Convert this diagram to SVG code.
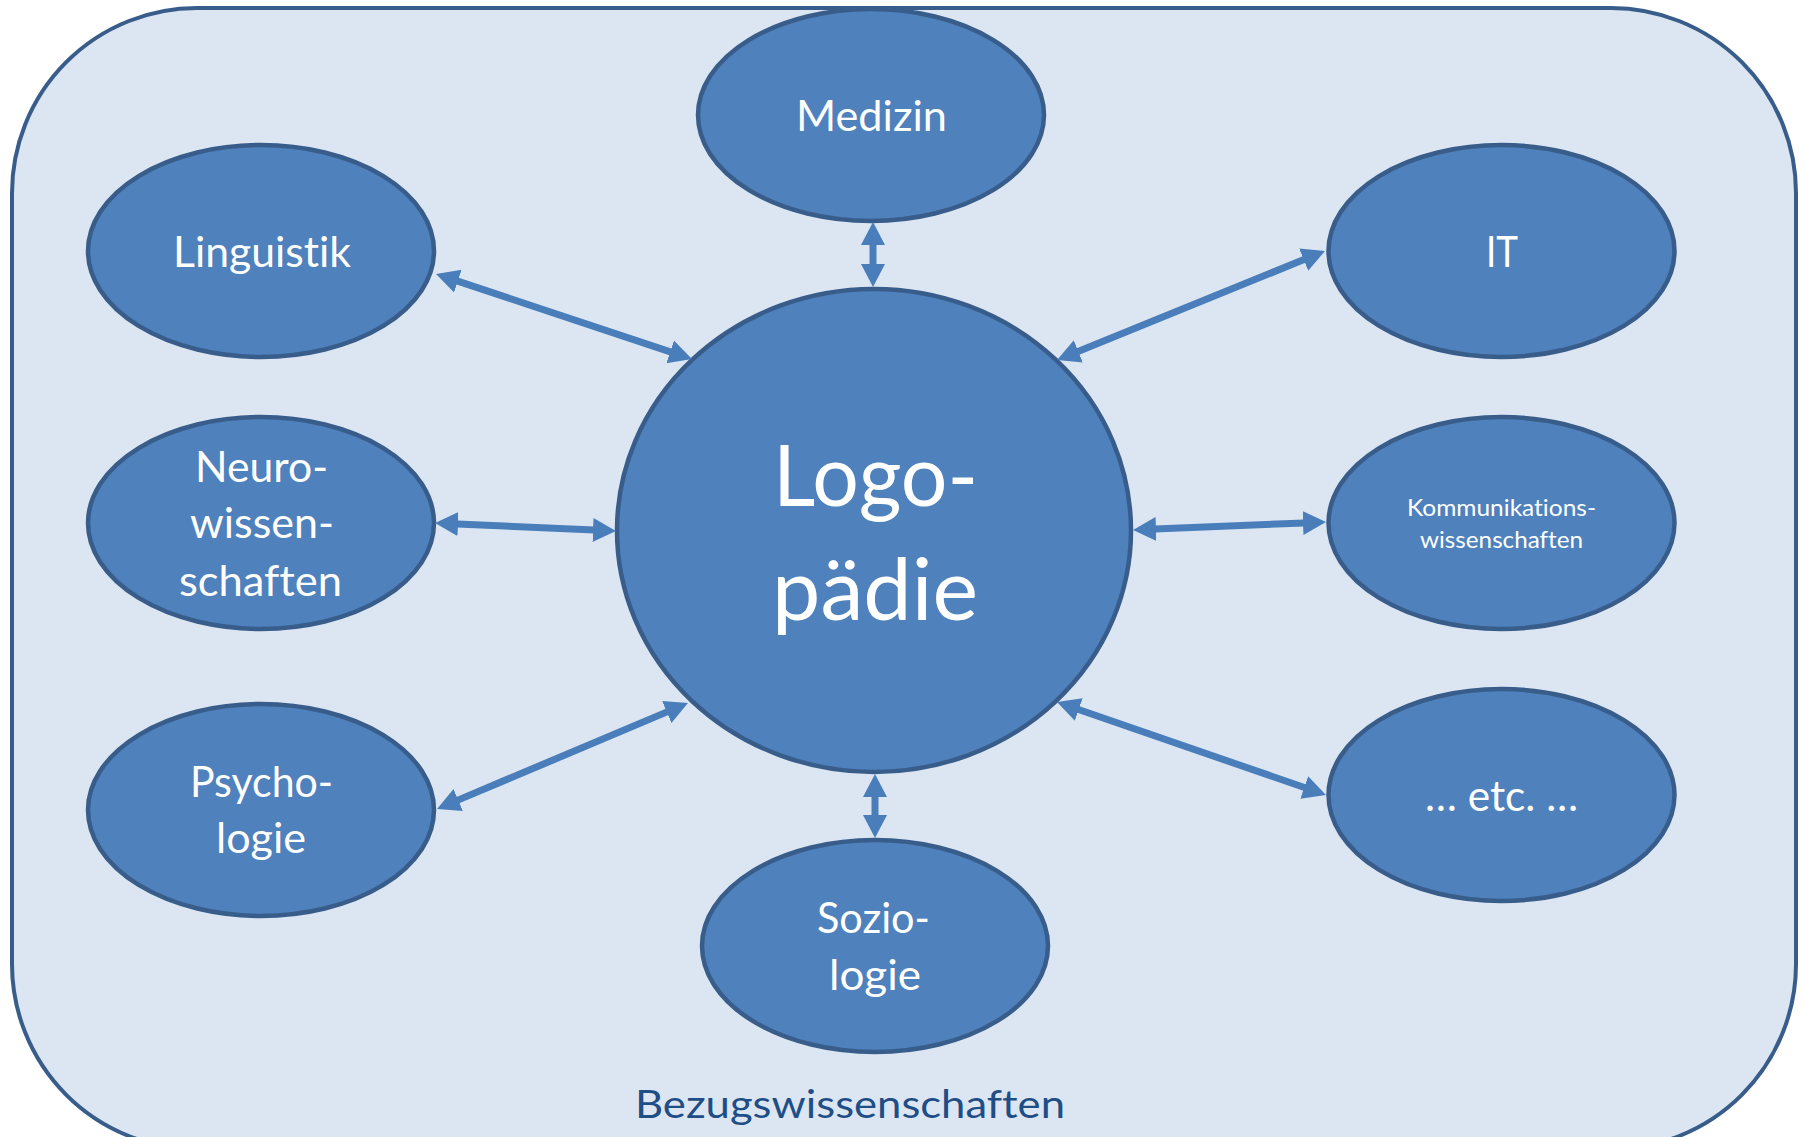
<svg xmlns="http://www.w3.org/2000/svg" width="1805" height="1137" viewBox="0 0 1805 1137">
  <style>
    text { font-variant-ligatures: none; font-feature-settings: "liga" 0, "clig" 0; }
    .node { fill: #4F81BD; stroke: #385D8A; stroke-width: 4.5; }
    .lbl { fill: #FFFFFF; font-family: Lato, "Open Sans", "Liberation Sans", sans-serif; font-size: 42px; text-anchor: middle; }
    .big { font-size: 86px; }
    .small { font-size: 23px; }
    .conn { stroke: #4A7EBB; stroke-width: 7; fill: none; marker-start: url(#head); marker-end: url(#head); }
    .title { fill: #1F4E86; font-family: Lato, "Open Sans", "Liberation Sans", sans-serif; font-size: 39px; text-anchor: middle; }
  </style>
  <defs>
    <marker id="head" markerUnits="userSpaceOnUse" markerWidth="25" markerHeight="25" refX="1" refY="12" orient="auto-start-reverse" viewBox="0 0 25 24">
      <path d="M0,0 L23,12 L0,24 Z" fill="#4A7EBB"/>
    </marker>
  </defs>

  <g id="background">
    <rect x="12" y="8" width="1784" height="1141" rx="185" ry="185" fill="#DCE6F2" stroke="#385D8A" stroke-width="4"/>
    <text class="title" x="850" y="1118" textLength="430" lengthAdjust="spacingAndGlyphs">Bezugswissenschaften</text>
  </g>

  <g id="node-logopaedie">
    <ellipse class="node" cx="874" cy="530.5" rx="257" ry="241.5"/>
    <text class="lbl big" x="875.5" y="506" textLength="205" lengthAdjust="spacingAndGlyphs">Logo-</text>
    <text class="lbl big" x="875" y="620" textLength="206" lengthAdjust="spacingAndGlyphs">pädie</text>
  </g>

  <g id="node-medizin">
    <ellipse class="node" cx="871" cy="115" rx="173" ry="106"/>
    <text class="lbl" x="871.5" y="131" textLength="151" lengthAdjust="spacingAndGlyphs">Medizin</text>
  </g>

  <g id="node-linguistik">
    <ellipse class="node" cx="261" cy="251" rx="173" ry="106"/>
    <text class="lbl" x="262" y="267" textLength="178" lengthAdjust="spacingAndGlyphs">Linguistik</text>
  </g>

  <g id="node-it">
    <ellipse class="node" cx="1501.5" cy="251" rx="173" ry="106"/>
    <text class="lbl" x="1502" y="267" textLength="32" lengthAdjust="spacingAndGlyphs">IT</text>
  </g>

  <g id="node-neurowissenschaften">
    <ellipse class="node" cx="261" cy="523" rx="173" ry="106"/>
    <text class="lbl" x="261.5" y="482" textLength="133" lengthAdjust="spacingAndGlyphs">Neuro-</text>
    <text class="lbl" x="262" y="538" textLength="144" lengthAdjust="spacingAndGlyphs">wissen-</text>
    <text class="lbl" x="260.5" y="596" textLength="163" lengthAdjust="spacingAndGlyphs">schaften</text>
  </g>

  <g id="node-kommunikationswissenschaften">
    <ellipse class="node" cx="1501.5" cy="523" rx="173" ry="106"/>
    <text class="lbl small" x="1501.5" y="516" textLength="189" lengthAdjust="spacingAndGlyphs">Kommunikations-</text>
    <text class="lbl small" x="1501.5" y="548" textLength="163" lengthAdjust="spacingAndGlyphs">wissenschaften</text>
  </g>

  <g id="node-psychologie">
    <ellipse class="node" cx="261" cy="810" rx="173" ry="106"/>
    <text class="lbl" x="261.5" y="797" textLength="143" lengthAdjust="spacingAndGlyphs">Psycho-</text>
    <text class="lbl" x="261" y="853" textLength="90" lengthAdjust="spacingAndGlyphs">logie</text>
  </g>

  <g id="node-etc">
    <ellipse class="node" cx="1501.5" cy="795" rx="173" ry="106"/>
    <text class="lbl" x="1501.5" y="811" textLength="153" lengthAdjust="spacingAndGlyphs">… etc. …</text>
  </g>

  <g id="node-soziologie">
    <ellipse class="node" cx="875" cy="946" rx="173" ry="106"/>
    <text class="lbl" x="873.5" y="933" textLength="113" lengthAdjust="spacingAndGlyphs">Sozio-</text>
    <text class="lbl" x="875" y="990" textLength="92" lengthAdjust="spacingAndGlyphs">logie</text>
  </g>

  <g id="connectors">
    <line class="conn" x1="456.9" y1="280.9" x2="671.1" y2="352.1"/>
    <line class="conn" x1="873" y1="244" x2="873" y2="265"/>
    <line class="conn" x1="1077.4" y1="351.7" x2="1304.6" y2="259.3"/>
    <line class="conn" x1="457" y1="524" x2="594" y2="530"/>
    <line class="conn" x1="1155" y1="529.1" x2="1304" y2="522.9"/>
    <line class="conn" x1="457.3" y1="800.4" x2="667.7" y2="711.6"/>
    <line class="conn" x1="1077.8" y1="709.2" x2="1305.2" y2="787.8"/>
    <line class="conn" x1="875" y1="796" x2="875" y2="816"/>
  </g>
</svg>
